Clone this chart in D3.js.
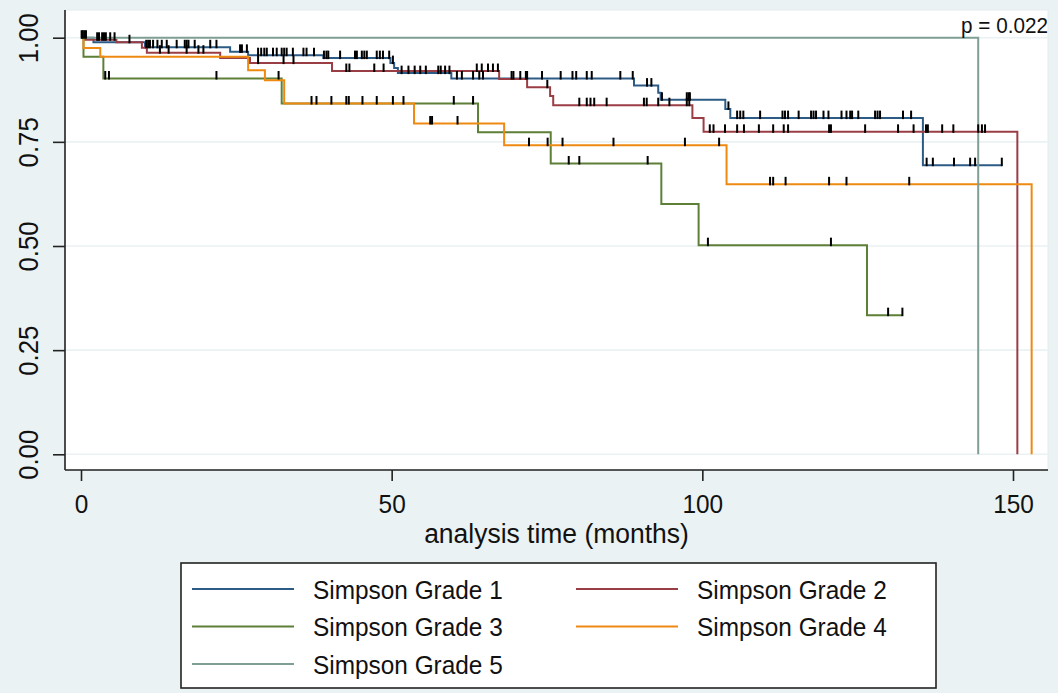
<!DOCTYPE html>
<html>
<head>
<meta charset="utf-8">
<script src="https://cdn.jsdelivr.net/npm/d3@7"></script>
<style>
  html, body { margin: 0; padding: 0; background: #eaf2f3; }
  svg { display: block; }
  text { font-family: "Liberation Sans", Arial, sans-serif; fill: #111; }
</style>
</head>
<body>
<svg id="chart" width="1058" height="693"></svg>
<script>
// ---------- data ----------
const groupNames = ["Simpson Grade 1", "Simpson Grade 2", "Simpson Grade 3", "Simpson Grade 4", "Simpson Grade 5"];
const groupColors = ["#2c5b86", "#9a3e45", "#5e7f37", "#ee8a12", "#7f9f95"];

const timeTicks = [0, 50, 100, 150];
const survTicks = [0, 0.25, 0.5, 0.75, 1];
const survTickLabels = ["0.00", "0.25", "0.50", "0.75", "1.00"];
const xTitle = "analysis time (months)";
const pText = "p = 0.022";

// Grade 1 (step times and survival after each step)
const g1Times = [0, 2.0, 10.3, 24.0, 26.9, 39.0, 49.8, 50.4, 51.0, 59.6, 89.0, 92.9, 93.3, 103.7, 104.5, 135.5];
const g1Surv  = [1, 0.989, 0.977, 0.966, 0.958, 0.951, 0.939, 0.927, 0.915, 0.902, 0.885, 0.868, 0.851, 0.829, 0.807, 0.694];
const g1End = 148.2;
const g1Censor = [0.1, 0.3, 0.55, 0.8, 10.5, 10.8, 11.1, 11.6, 12.3, 13.0, 13.8, 15.4, 16.7, 17.0, 17.3, 18.3, 20.8, 21.8,
  25.6, 25.9, 26.7, 28.5, 29.0, 29.5, 29.9, 30.9, 31.5, 32.3, 32.7, 33.1, 34.1, 35.8, 36.3, 37.5, 39.1, 39.5, 39.8,
  41.7, 44.1, 44.4, 45.2, 45.6, 46.0, 47.6, 48.1, 48.6, 49.6, 50.2, 51.6, 52.7, 53.7, 54.6, 55.5, 57.5, 57.9, 58.6, 59.3,
  60.5, 61.3, 63.1, 64.1, 64.7, 69.3, 69.6, 70.7, 71.6, 71.8, 74.2, 77.2, 79.1, 79.7, 81.4, 82.2, 86.8, 88.8,
  91.1, 91.8, 93.5, 97.5, 97.8, 98.0, 104.2, 105.6, 106.1, 106.6, 109.3, 112.9, 113.3, 113.8, 115.5, 117.5, 117.9, 118.3,
  119.5, 120.3, 122.4, 123.2, 123.8, 124.1, 125.1, 127.8, 128.2, 128.6, 132.3, 133.6,
  136.1, 137.1, 140.5, 143.1, 143.9, 148.2];

// Grade 2
const g2Times = [0, 0.6, 5.7, 9.8, 10.6, 22.4, 27.2, 40.4, 67.3, 71.8, 75.5, 76.0, 98.4, 100.2, 150.7];
const g2Surv  = [1, 0.995, 0.989, 0.976, 0.964, 0.951, 0.939, 0.920, 0.901, 0.881, 0.860, 0.838, 0.807, 0.774, 0];
const g2End = 150.7;
const g2Censor = [2.6, 2.9, 3.4, 3.7, 4.0, 4.7, 5.4, 7.8, 12.7, 14.1, 17.0, 18.9, 19.7, 28.5, 32.6, 34.2,
  42.7, 43.2, 47.2, 48.7, 63.7, 64.5, 65.5, 66.3, 67.1, 75.05, 80.2, 81.4, 82.0, 82.6, 84.6, 90.6, 91.05, 92.9,
  94.7, 97.5, 97.9, 101.2, 101.8, 103.65, 105.6, 106.7, 109.1, 111.4, 113.1, 113.8, 120.4, 120.7, 126.2, 131.5,
  134.0, 136.0, 136.3, 138.6, 140.4, 144.4, 145.0, 145.5];

// Grade 3
const g3Times = [0, 0.4, 3.6, 32.3, 63.9, 75.6, 93.4, 99.4, 126.5];
const g3Surv  = [1, 0.954, 0.902, 0.842, 0.773, 0.698, 0.601, 0.502, 0.334];
const g3End = 132.2;
const g3Censor = [3.9, 4.5, 21.8, 31.8, 60.0, 63.1, 78.5, 80.2, 91.2, 100.9, 120.7, 129.9, 132.2];

// Grade 4
const g4Times = [0, 0.4, 3.1, 26.9, 29.6, 32.7, 53.6, 68.1, 103.9, 153.0];
const g4Surv  = [1, 0.975, 0.954, 0.922, 0.898, 0.842, 0.794, 0.742, 0.648, 0];
const g4End = 153.0;
const g4Censor = [37.1, 37.9, 40.3, 42.7, 43.1, 45.3, 47.6, 50.2, 51.9, 56.2, 56.5, 60.6, 72.1, 75.1, 77.5, 85.7,
  97.2, 102.7, 110.9, 111.4, 113.4, 120.4, 123.2, 133.3];

// Grade 5
const g5Times = [0, 144.4];
const g5Surv  = [1, 0];
const g5End = 144.4;
const g5Censor = [];

// ---------- layout ----------
const svg = d3.select("#chart");
const plotL = 65, plotR = 1048, plotT = 10, plotB = 470;
const condense = 0.92;

const x = d3.scaleLinear().domain([0, 150]).range([81, 1013]);
const y = d3.scaleLinear().domain([0, 1]).range([454.3, 37.7]);

// plot region
svg.append("rect").attr("x", plotL).attr("y", plotT)
  .attr("width", plotR - plotL).attr("height", plotB - plotT)
  .attr("fill", "#ffffff").attr("stroke", "#e3ecee").attr("stroke-width", 1);

// gridlines
svg.append("g").selectAll("line").data(survTicks).join("line")
  .attr("x1", plotL).attr("x2", plotR)
  .attr("y1", d => y(d)).attr("y2", d => y(d))
  .attr("stroke", "#eaf2f3").attr("stroke-width", 1.6);

// series
const series = [
  {times: g1Times, surv: g1Surv, end: g1End, censor: g1Censor},
  {times: g2Times, surv: g2Surv, end: g2End, censor: g2Censor},
  {times: g3Times, surv: g3Surv, end: g3End, censor: g3Censor},
  {times: g4Times, surv: g4Surv, end: g4End, censor: g4Censor},
  {times: g5Times, surv: g5Surv, end: g5End, censor: g5Censor}
];

function survAt(s, t) {
  let v = s.surv[0];
  for (let i = 0; i < s.times.length; i++) if (s.times[i] <= t) v = s.surv[i];
  return v;
}

const line = d3.line().x(d => x(d[0])).y(d => y(d[1])).curve(d3.curveStepAfter);

series.forEach((s, i) => {
  const pts = s.times.map((t, k) => [t, s.surv[k]]);
  pts.push([s.end, s.surv[s.surv.length - 1]]);
  svg.append("path").datum(pts)
    .attr("d", line)
    .attr("fill", "none")
    .attr("stroke", groupColors[i])
    .attr("stroke-width", 2);
});

// censor ticks
series.forEach((s, i) => {
  svg.append("g").selectAll("line").data(s.censor).join("line")
    .attr("x1", d => x(d)).attr("x2", d => x(d))
    .attr("y1", d => y(survAt(s, d)) + 1)
    .attr("y2", d => y(survAt(s, d)) - 7.5)
    .attr("stroke", "#000").attr("stroke-width", 2);
});

// axes
const yAxis = d3.axisLeft(y).tickValues(survTicks).tickSize(12).tickFormat((d, k) => survTickLabels[k]);
const gy = svg.append("g").attr("transform", `translate(${plotL},0)`).call(yAxis);
gy.select(".domain").attr("d", `M0,${plotT}V${plotB}`).attr("stroke", "#222").attr("stroke-width", 1.6);
gy.selectAll(".tick line").attr("stroke", "#222").attr("stroke-width", 1.6);
gy.selectAll(".tick text")
  .attr("x", 0).attr("y", 0).attr("dy", 0)
  .attr("transform", "translate(-27,0) rotate(-90)")
  .attr("text-anchor", "middle")
  .style("font-size", "28px").attr("fill", "#111");

const xAxis = d3.axisBottom(x).tickValues(timeTicks).tickSize(11).tickFormat(d3.format("d"));
const gx = svg.append("g").attr("transform", `translate(0,${plotB})`).call(xAxis);
gx.select(".domain").attr("d", `M${plotL},0H${plotR}`).attr("stroke", "#222").attr("stroke-width", 1.6);
gx.selectAll(".tick line").attr("stroke", "#222").attr("stroke-width", 1.6);
gx.selectAll(".tick text").attr("y", 0).attr("dy", 0)
  .attr("transform", "translate(0,42.5)")
  .style("font-size", "26.5px").attr("fill", "#111");

svg.append("text").attr("class", "xtitle").attr("x", (plotL + plotR) / 2).attr("y", 543)
  .attr("text-anchor", "middle").style("font-size", "27px").text(xTitle);

// p value
svg.append("text").attr("x", plotR).attr("y", 33).attr("text-anchor", "end")
  .style("font-size", "22.5px").text(pText);

// legend
const lg = svg.append("g");
lg.append("rect").attr("x", 181).attr("y", 563).attr("width", 755).attr("height", 125)
  .attr("fill", "#fff").attr("stroke", "#222").attr("stroke-width", 1.6);
groupNames.forEach((name, i) => {
  const col = i % 2, row = Math.floor(i / 2);
  const lx = col === 0 ? 192 : 576;
  const ly = 589 + row * 37.5;
  lg.append("line").attr("x1", lx).attr("x2", lx + 102).attr("y1", ly).attr("y2", ly)
    .attr("stroke", groupColors[i]).attr("stroke-width", 2);
  lg.append("text").attr("x", lx + 121).attr("y", ly + 9.5)
    .style("font-size", "26.5px").text(name);
});

// slightly condensed glyphs, as in the original export
svg.selectAll("text").each(function() {
  const len = this.getComputedTextLength();
  const f = this.getAttribute("class") === "xtitle" ? 0.98 : condense;
  d3.select(this).attr("textLength", len * f).attr("lengthAdjust", "spacingAndGlyphs");
});
</script>
</body>
</html>
